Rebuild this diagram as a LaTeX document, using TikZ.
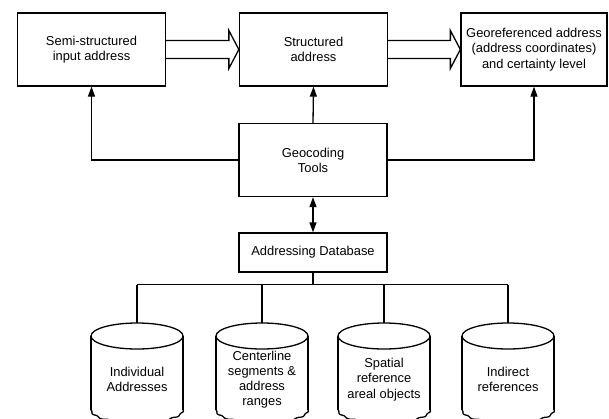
\documentclass[tikz,border=0pt]{standalone}
\usepackage{fontspec}
\setmainfont{Liberation Sans}
\usetikzlibrary{arrows.meta}
\usetikzlibrary{calc}

\begin{document}
\begin{tikzpicture}[x=1pt,y=-1pt,line width=1.3pt,>={Triangle[length=10pt,width=7pt]},
  font=\fontsize{12.9}{15.2}\selectfont,
  box/.style={draw,minimum width=148pt,minimum height=73pt,align=center,inner sep=2pt}]
\useasboundingbox (0,0) rectangle (609,418);
\clip (0,0) rectangle (609,418);

\node[box] (semi) at (91.5,49.5) {Semi-structured\\input address};
\node[box] (struct) at (313.5,49.5) {Structured\\address};
\node[box,minimum width=146pt] (georef) at (534,49.5) {Georeferenced address\\(address coordinates)\\and certainty level};
\node[box] (geo) at (313,160) {Geocoding\\Tools};
\node[box,minimum height=39pt] (db) at (313,252.5) {Addressing Database};

\foreach \a/\b in {semi/struct,struct/georef}
  \draw ($(\a.east)+(0,-9)$) -- ($(\b.west)+(-10,-9)$) -- ($(\b.west)+(-10,-19)$) -- (\b.west)
    -- ($(\b.west)+(-10,19)$) -- ($(\b.west)+(-10,9)$) -- ($(\a.east)+(0,9)$);

\draw [->] (geo.west) -| (semi.south);
\draw [->] (geo.east) -| (georef.south);
\draw [->] (geo.north) -- (struct.south);
\draw [<->] (geo.south) -- (db.north);
\draw (db.south) -- ++(0,12) coordinate (bus);

\foreach \cx/\nm/\txt in {137/indiv/{Individual\\Addresses},
  262/centre/{Centerline\\segments \&\\address\\ranges},
  384/spatial/{Spatial\\reference\\areal objects},
  508/indirect/{Indirect\\references}}{
  \draw (\cx,336) ellipse [x radius=46, y radius=13];
  \draw (\cx-46,336) -- (\cx-46,410) (\cx+46,336) -- (\cx+46,410);
  \draw [smooth,samples=60,domain=0:180]
    plot ({\cx+cos(\x)*(46+0.6*sin(16*\x))},{410+sin(\x)*(13+0.9*sin(16*\x))});
  \node[align=center] (\nm) at (\cx,379.5) {\txt};
  \coordinate (\nm-top) at (\cx,323);
  \draw (bus -| \nm-top) -- (\nm-top);
}
\draw (bus -| indiv-top) -- (bus -| indirect-top);
\end{tikzpicture}
\end{document}
